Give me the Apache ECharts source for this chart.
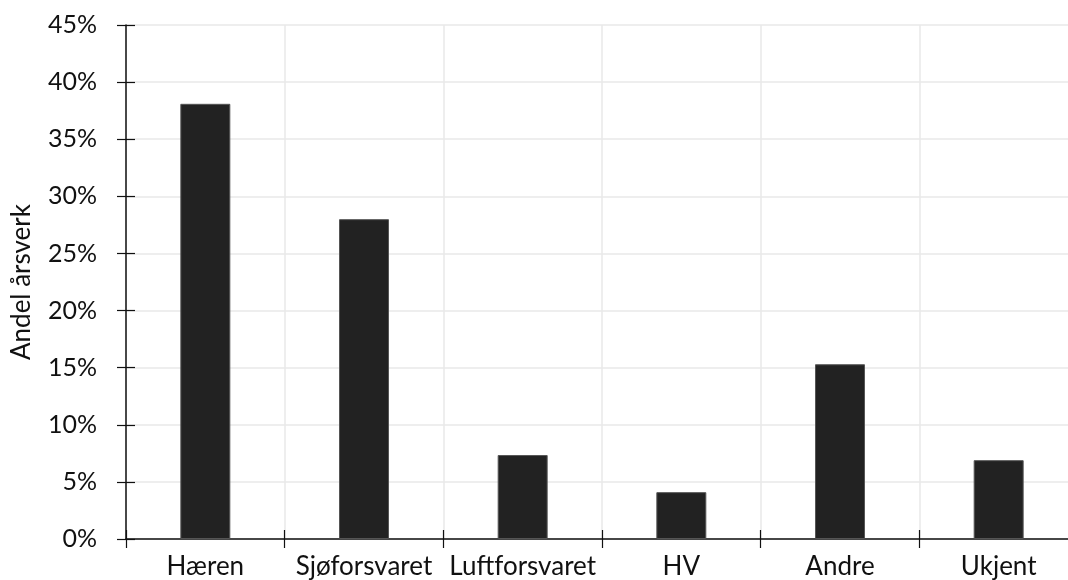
<!DOCTYPE html>
<html>
<head>
<meta charset="utf-8">
<script src="https://cdn.jsdelivr.net/npm/echarts@6/dist/echarts.min.js"></script>
<style>
  html, body { margin: 0; padding: 0; background: #ffffff; overflow: hidden; }
  /* the drawing runs a few pixels past the right edge of the window */
  #chart { width: 1078px; height: 580px; }
</style>
</head>
<body>
<div id="chart"></div>
<script>
// Andel årsverk per forsvarsgren (prosent)
const categories = ['Hæren', 'Sjøforsvaret', 'Luftforsvaret', 'HV', 'Andre', 'Ukjent'];
const shares = [38.1, 28.0, 7.35, 4.1, 15.3, 6.9];
const yTicks = { min: 0, max: 45, step: 5 };

const FONT = 'Lato, "Open Sans", sans-serif';
const INK = '#111111';
const GRID = '#e8e8e8';

const chart = echarts.init(document.getElementById('chart'), null, { renderer: 'canvas' });

const baseX = {
  type: 'category',
  data: categories,
  position: 'bottom',
  boundaryGap: true
};
const baseY = {
  type: 'value',
  min: yTicks.min,
  max: yTicks.max,
  interval: yTicks.step,
  position: 'left'
};

chart.setOption({
  backgroundColor: '#ffffff',
  animation: false,
  grid: { left: 126, right: 0, top: 25, bottom: 41, containLabel: false },
  xAxis: [
    Object.assign({}, baseX, {
      axisLine: { show: true, lineStyle: { color: INK, width: 1.5 } },
      axisTick: { show: true, inside: false, length: 9, alignWithLabel: false, lineStyle: { color: INK, width: 1.2 } },
      axisLabel: { color: INK, fontFamily: FONT, fontSize: 26, margin: 15, interval: 0 },
      splitLine: { show: true, lineStyle: { color: GRID, width: 1.5 } }
    }),
    // second copy draws the upper half of the crossing ticks
    Object.assign({}, baseX, {
      axisLine: { show: false },
      axisTick: { show: true, inside: true, length: 9, lineStyle: { color: INK, width: 1.2 } },
      axisLabel: { show: false },
      splitLine: { show: false }
    })
  ],
  yAxis: [
    Object.assign({}, baseY, {
      name: 'Andel årsverk',
      nameLocation: 'middle',
      nameGap: 91,
      nameRotate: 90,
      nameTextStyle: { color: INK, fontFamily: FONT, fontSize: 26 },
      axisLine: { show: true, lineStyle: { color: INK, width: 1.5 } },
      axisTick: { show: true, inside: false, length: 9, lineStyle: { color: INK, width: 1.2 } },
      axisLabel: { color: INK, fontFamily: FONT, fontSize: 25, margin: 29, formatter: v => v + '%' },
      splitLine: { show: true, lineStyle: { color: GRID, width: 1.5 } }
    }),
    Object.assign({}, baseY, {
      axisLine: { show: false },
      axisTick: { show: true, inside: true, length: 9, lineStyle: { color: INK, width: 1.2 } },
      axisLabel: { show: false },
      splitLine: { show: false }
    })
  ],
  series: [{
    type: 'bar',
    data: shares,
    xAxisIndex: 0,
    yAxisIndex: 0,
    barWidth: '31.5%',
    itemStyle: { color: '#222222', borderColor: '#555555', borderWidth: 1 },
    z: 3
  }]
});
</script>
</body>
</html>
